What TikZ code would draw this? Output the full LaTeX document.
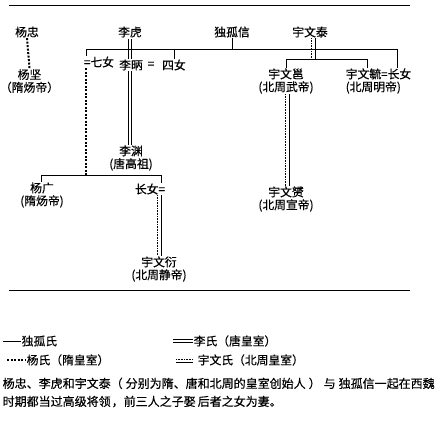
\documentclass[tikz,border=0pt]{standalone}
\usepackage{fontspec}
\setmainfont[FakeBold=0.4]{Noto Sans CJK SC}
\begin{document}
\begin{tikzpicture}[x=1pt, y=-1pt, every node/.style={inner sep=0.5pt, font=\fontsize{11.8}{12.8}\selectfont},
	dugu/.style={line width=0.9pt},
	lishi/.style={double, double distance=1.7pt, line width=0.75pt},
	yangshi/.style={line width=2pt, dash pattern=on 2pt off 1.5pt},
	yuwen/.style={line width=0.9pt, postaction={draw, line width=0.7pt, dash pattern=on 0.8pt off 0.8pt, transform canvas={shift={#1}}}},
	yuwen/.default={(-3.5pt,0pt)},
	twoline/.style={align=center}]
	\useasboundingbox (0,0) rectangle (437,423);
	
	% 1. 上下两条横线
	\draw[line width=0.9pt] (9,5) -- (410,5);
	\draw[line width=0.9pt] (9,290) -- (410,290);
	
	% 2. 第一代
	\node (yz) at (27,32) {杨忠};
	\node (lh) at (130,32) {李虎};
	\node (dgx) at (232,32) {独孤信};
	\node (ywt) at (310,32) {宇文泰};
	
	% 3. 第二代
	\node (yj) [twoline] at (29.5,81) {杨坚\\（隋炀帝）};
	\node (qn) at (99,62) {=七女};
	\node (lb) at (131,65) {李昞};
	\node (lbq) at (151,65) {=};
	\node (sn) at (174,65) {四女};
	\node (ywyong) [twoline] at (286,81) {宇文邕\\(北周武帝)};
	\node (ywyu) [align=left, anchor=west] at (345,81) {宇文毓=长女\\(北周明帝)};
	
	% 4. 第三、四代
	\node (ly) [twoline] at (131,158) {李渊\\(唐高祖)};
	\node (yg) [twoline] at (42,195) {杨广\\(隋炀帝)};
	\node (cn) at (150,189) {长女=};
	\node (ywyun) [twoline] at (286,199) {宇文赟\\(北周宣帝)};
	\node (ywx) [twoline] at (159,269) {宇文衍\\(北周静帝)};
	
	% 5. 连线
	\coordinate (hl) at (86,49);
	\coordinate (hr) at (397,49);
	\draw[lishi] ([yshift=-1pt]lh.south) -- (lh.south |- lb.north);
	\draw[lishi] (lb.south -| lh.south) -- (ly.north -| lh.south);
	\draw[dugu] (qn.north -| hl) -- (hl) -- (hr) -- (hr |- ywyu.north);
	\draw[dugu] (sn.north) -- (sn.north |- hl);
	\draw[dugu] (dgx.south) -- (dgx.south |- hl);
	\draw[yangshi] (yz.south) -- (yj.north);
	
	\coordinate (sl) at (41,175);
	\coordinate (sr) at (161,175);
	\draw[yangshi] (qn.south -| hl) -- (hl |- sl);
	\draw[dugu] (yg.north -| sl) -- (sl) -- (sr) -- (sr |- cn.north);
	\draw[yuwen] (cn.south -| sr) -- (ywx.north -| sr);
	
	\coordinate (wb) at (315,59);
	\coordinate (wl) at (286,59);
	\coordinate (wr) at (367,59);
	\draw[yuwen] (ywt.south -| wb) -- (wb);
	\draw[dugu] (ywyong.north -| wl) -- (wl) -- (wr) -- (wr |- ywyu.north);
	\draw[yuwen] ([xshift=3pt]ywyong.south) -- ([xshift=3pt]ywyun.north);
	
	% 6. 图例
	\node[anchor=west] (lgdg) at (21,341) {独孤氏};
	\coordinate (lgdga) at (3,341);
	\draw[dugu] (lgdga) -- (lgdg.west);
	\node[anchor=west] (lgls) at (193,341) {李氏（唐皇室）};
	\coordinate (lglsa) at (173,341);
	\draw[lishi] (lglsa) -- (lgls.west);
	\node[anchor=west] (lgys) at (26,360) {杨氏（隋皇室）};
	\coordinate (lgysa) at (7,360);
	\draw[yangshi] (lgysa) -- (lgys.west);
	\node[anchor=west] (lgyw) at (197,360) {宇文氏（北周皇室）};
	\coordinate (lgywa) at (176,362);
	\draw[yuwen={(0pt,3pt)}] (lgywa) -- ([xshift=-4pt]lgywa -| lgyw.west);
	
	% 7. 说明
	\node[anchor=north west, align=left, font=\fontsize{12}{18}\selectfont] (note) at (2,377)
		{杨忠、李虎和宇文泰（\hspace{3pt}分别为隋、唐和北周的皇室创始人\hspace{3pt}）\hspace{3pt}与\hspace{3pt}独孤信一起在西魏\\时期都当过高级将领\hspace{1pt}，前三人之子娶\hspace{2pt}后者之女为妻。};
\end{tikzpicture}
\end{document}
